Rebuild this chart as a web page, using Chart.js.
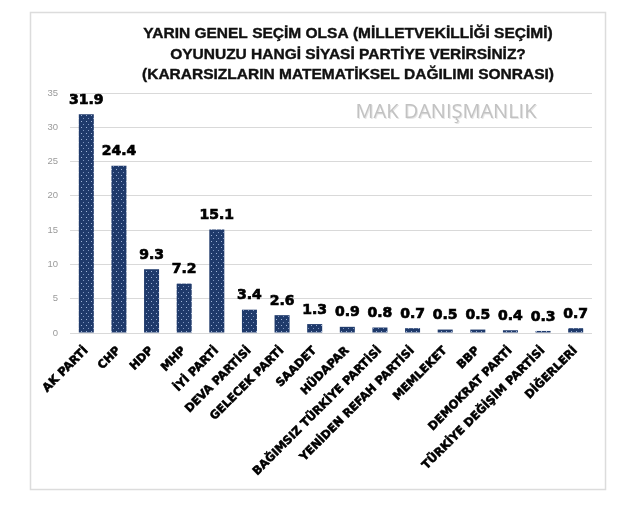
<!DOCTYPE html>
<html>
<head>
<meta charset="utf-8">
<script src="https://cdn.jsdelivr.net/npm/chart.js@4.4.1/dist/chart.umd.min.js"></script>
<style>
  html, body { margin: 0; padding: 0; background: #ffffff; }
  #wrap { width: 640px; height: 516px; position: relative; }
</style>
</head>
<body>
<div id="wrap"><canvas id="c" width="640" height="516"></canvas></div>
<script>
const categories = ['AK PARTİ', 'CHP', 'HDP', 'MHP', 'İYİ PARTİ', 'DEVA PARTİSİ', 'GELECEK PARTİ', 'SAADET', 'HÜDAPAR', 'BAĞIMSIZ TÜRKİYE PARTİSİ', 'YENİDEN REFAH PARTİSİ', 'MEMLEKET', 'BBP', 'DEMOKRAT PARTİ', 'TÜRKİYE DEĞİŞİM PARTİSİ', 'DİĞERLERİ'];
const values = [31.9, 24.4, 9.3, 7.2, 15.1, 3.4, 2.6, 1.3, 0.9, 0.8, 0.7, 0.5, 0.5, 0.4, 0.3, 0.7];
const yMin = 0, yMax = 35, yStep = 5;
const titleLines = ['YARIN GENEL SEÇİM OLSA (MİLLETVEKİLLİĞİ SEÇİMİ)', 'OYUNUZU HANGİ SİYASİ PARTİYE VERİRSİNİZ?', '(KARARSIZLARIN MATEMATİKSEL DAĞILIMI SONRASI)'];
const watermark = 'MAK DANIŞMANLIK';

// dotted navy fill
function makePattern() {
  const p = document.createElement('canvas');
  p.width = 5; p.height = 6;
  const g = p.getContext('2d');
  g.fillStyle = '#1f3a6b';
  g.fillRect(0, 0, 5, 6);
  g.fillStyle = '#9fb3d6';
  g.fillRect(1, 1, 1, 1);
  g.fillStyle = '#7f95c0';
  g.fillRect(3, 4, 1, 1);
  return document.getElementById('c').getContext('2d').createPattern(p, 'repeat');
}

const decor = {
  id: 'decor',
  beforeDraw(chart) {
    const ctx = chart.ctx;
    ctx.save();
    ctx.fillStyle = '#ffffff';
    ctx.fillRect(0, 0, chart.width, chart.height);
    ctx.strokeStyle = '#dcdcdc';
    ctx.lineWidth = 1.5;
    ctx.strokeRect(30.5, 12.5, 575, 477);
    // title
    ctx.fillStyle = '#111111';
    ctx.strokeStyle = '#111111';
    ctx.lineWidth = 0.4;
    ctx.font = 'bold 15.5px "Liberation Sans", Arial, sans-serif';
    ctx.textAlign = 'center';
    ctx.textBaseline = 'middle';
    const ys = [34, 55, 75];
    titleLines.forEach((t, i) => { ctx.fillText(t, 348, ys[i]); ctx.strokeText(t, 348, ys[i]); });
    // watermark
    ctx.font = '20px "Open Sans", sans-serif';
    ctx.fillStyle = '#e6e6e6';
    ctx.fillText(watermark, 447, 113);
    ctx.fillStyle = '#c2c2c2';
    ctx.fillText(watermark, 446, 112);
    ctx.restore();
  },
  afterDatasetsDraw(chart) {
    const ctx = chart.ctx;
    const meta = chart.getDatasetMeta(0);
    ctx.save();
    ctx.fillStyle = '#000000';
    ctx.strokeStyle = '#000000';
    ctx.lineWidth = 0.7;
    ctx.font = 'bold 14px "DejaVu Sans", sans-serif';
    ctx.textAlign = 'center';
    ctx.textBaseline = 'bottom';
    meta.data.forEach((bar, i) => {
      const t = values[i].toFixed(1);
      ctx.fillText(t, bar.x, bar.y - 7);
      ctx.strokeText(t, bar.x, bar.y - 7);
    });
    ctx.restore();
  }
};

new Chart(document.getElementById('c'), {
  type: 'bar',
  data: {
    labels: categories,
    datasets: [{
      data: values,
      backgroundColor: makePattern(),
      borderColor: '#1f3a6b',
      borderWidth: 0,
      categoryPercentage: 1,
      barPercentage: 0.46
    }]
  },
  options: {
    responsive: false,
    animation: false,
    devicePixelRatio: 1,
    layout: { padding: { left: 40, right: 48, top: 93, bottom: 26 } },
    plugins: { legend: { display: false }, tooltip: { enabled: false }, title: { display: false } },
    scales: {
      x: {
        grid: { display: false, drawTicks: false },
        border: { display: false },
        ticks: {
          autoSkip: false, maxRotation: 45, minRotation: 45, padding: 11,
          color: '#000000', textStrokeColor: '#000000', textStrokeWidth: 0.6,
          font: { family: '"DejaVu Sans", sans-serif', size: 11.5, weight: 'bold' }
        },
        afterFit(s) { s.height = 157; s.paddingLeft = 0; s.paddingRight = 0; }
      },
      y: {
        min: yMin, max: yMax,
        grid: { color: '#d9d9d9', lineWidth: 1, drawTicks: false },
        border: { display: false },
        ticks: {
          stepSize: yStep, padding: 12, color: '#9a9a9a',
          font: { family: '"Liberation Sans", Arial, sans-serif', size: 9.5 }
        },
        afterFit(s) { s.width = 30; }
      }
    }
  },
  plugins: [decor]
});
</script>
</body>
</html>
